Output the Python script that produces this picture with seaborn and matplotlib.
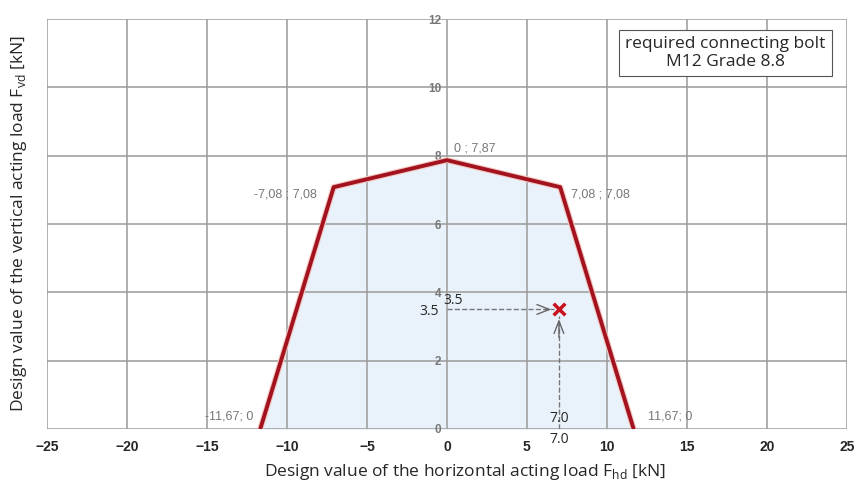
import numpy as np
import pandas as pd
import matplotlib
matplotlib.use("Agg")
import matplotlib.pyplot as plt
import matplotlib.patheffects as pe
import seaborn as sns

# interaction diagram points (x = horizontal load, y = vertical load)
fh = [-11.67, -7.08, 0.0, 7.08, 11.67]
fv = [0.0, 7.08, 7.87, 7.08, 0.0]
point_labels = ["-11,67; 0", "-7,08 ; 7,08", "0 ; 7,87", "7,08 ; 7,08", "11,67; 0"]

# design load point
load_x = 7.0
load_y = 3.5

xticks = [-25, -20, -15, -10, -5, 0, 5, 10, 15, 20, 25]
yticks = [0, 2, 4, 6, 8, 10, 12]

df = pd.DataFrame({"Fhd": fh, "Fvd": fv})

sns.set_style("white")
plt.rcParams["font.family"] = ["Open Sans", "DejaVu Sans"]

fig = plt.figure(figsize=(8.55, 4.9), dpi=100)
ax = fig.add_axes([0.055, 0.1245, 0.9355, 0.8365])

ax.fill_between(df["Fhd"], df["Fvd"], color="#e9f1fa", zorder=0.5)
sns.lineplot(data=df, x="Fhd", y="Fvd", sort=False, color="#a3121f", lw=2.8, ax=ax, zorder=4,
             path_effects=[pe.Stroke(linewidth=4.4, foreground="#f3c9c2"), pe.Normal()])

ax.set_xlim(-25, 25)
ax.set_ylim(0, 12)
ax.set_xticks(xticks)
ax.set_yticks(yticks)
ax.grid(True, color="#9a9a9a", lw=1.1)
ax.set_axisbelow(False)
for s in ax.spines.values():
    s.set_visible(False)
ax.spines["left"].set_position(("data", 0))

ax.tick_params(axis="x", length=0, pad=8, labelsize=10)
for lab in ax.get_xticklabels():
    lab.set_fontweight("bold")
    lab.set_family("Liberation Sans")
ax.tick_params(axis="y", length=4, width=1, color="#9a9a9a", direction="inout", pad=2,
               labelsize=8.5, labelcolor="#777777")
for lab in ax.get_yticklabels():
    lab.set_fontweight("bold")
    lab.set_family("Liberation Sans")

ax.set_xlabel("Design value of the horizontal acting load F$_{\\mathregular{hd}}$ [kN]", fontsize=12.5)
ax.set_ylabel("Design value of the vertical acting load F$_{\\mathregular{vd}}$ [kN]", fontsize=12.5)
ax.xaxis.set_label_coords(0.5225, -0.08)
ax.yaxis.set_label_coords(-0.022, 0.5)

# point labels
lab_style = dict(fontsize=9, color="#777777", family="Liberation Sans")
ax.annotate(point_labels[0], (fh[0], fv[0]), xytext=(-5, 5), textcoords="offset points", ha="right", va="bottom", **lab_style)
ax.annotate(point_labels[1], (fh[1], fv[1]), xytext=(-12, -5), textcoords="offset points", ha="right", va="center", **lab_style)
ax.annotate(point_labels[2], (fh[2], fv[2]), xytext=(5, 4), textcoords="offset points", ha="left", va="bottom", **lab_style)
ax.annotate(point_labels[3], (fh[3], fv[3]), xytext=(8, -5), textcoords="offset points", ha="left", va="center", **lab_style)
ax.annotate(point_labels[4], (fh[4], fv[4]), xytext=(10, 5), textcoords="offset points", ha="left", va="bottom", **lab_style)

# dashed guide arrows to the load point
ax.plot([0, load_x - 0.3], [load_y, load_y], ls="--", color="#777777", lw=1, zorder=3)
ax.plot([load_x, load_x], [0, load_y - 0.2], ls="--", color="#777777", lw=1, zorder=3)
ax.annotate("", xy=(load_x - 0.3, load_y), xytext=(load_x - 1.0, load_y),
            arrowprops=dict(arrowstyle="->,head_length=0.9,head_width=0.35", color="#666666", lw=1))
ax.annotate("", xy=(load_x, load_y - 0.2), xytext=(load_x, load_y - 0.9),
            arrowprops=dict(arrowstyle="->,head_length=0.9,head_width=0.35", color="#666666", lw=1))
sns.scatterplot(x=[load_x], y=[load_y], marker="x", color="#c8101e", s=70, linewidth=2.5, ax=ax, zorder=5)

ax.text(-0.5, load_y - 0.05, f"{load_y}", ha="right", va="center", fontsize=10)
ax.text(-0.25, load_y + 0.03, f"{load_y}", ha="left", va="bottom", fontsize=10)
ax.text(load_x, 0.1, f"{load_x}", ha="center", va="bottom", fontsize=10)
ax.text(load_x, -0.1, f"{load_x}", ha="center", va="top", fontsize=10, clip_on=False)

ax.text(17.4, 11.0, "required connecting bolt\nM12 Grade 8.8", ha="center", va="center", fontsize=12.5,
        linespacing=1.15, bbox=dict(boxstyle="square,pad=0.35", fc="white", ec="#555555", lw=0.8), zorder=6)

fig.savefig("out.png", dpi=100)
